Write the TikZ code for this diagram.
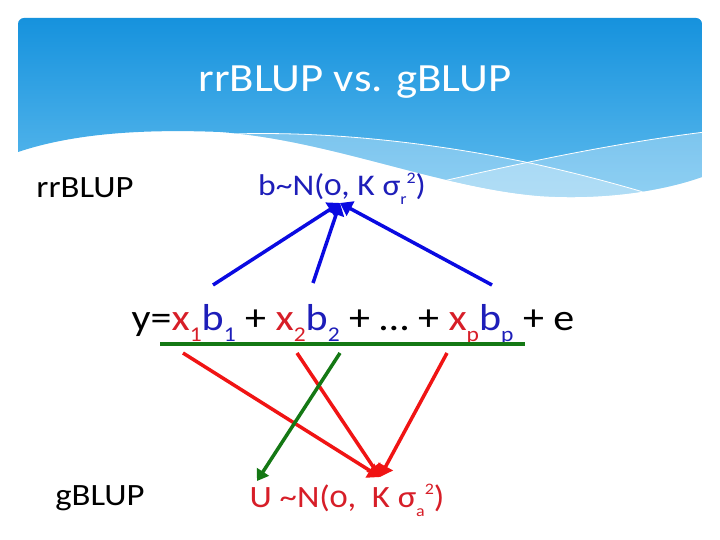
\documentclass[tikz,border=0pt]{standalone}
\usepackage{fontspec}
\setmainfont{Carlito}[Numbers=OldStyle, FakeStretch=1.12]
\usetikzlibrary{arrows.meta, positioning}

\definecolor{hdtop}{RGB}{22,146,221}
\definecolor{hdbot}{RGB}{96,188,238}
\definecolor{txtblue}{RGB}{30,30,185}
\definecolor{arrblue}{RGB}{10,10,225}
\definecolor{txtred}{RGB}{215,30,40}
\definecolor{arrred}{RGB}{240,20,20}
\definecolor{lngreen}{RGB}{20,120,20}

\newcommand{\dnsub}[2]{\raisebox{-.3em}{\fontsize{#1}{#1}\selectfont\addfontfeatures{Numbers=Lining}#2}}
\newcommand{\upsup}[2]{\raisebox{.4em}{\fontsize{#1}{#1}\selectfont\addfontfeatures{Numbers=Lining}#2}}

\begin{document}
\begin{tikzpicture}[x=1pt, y=-1pt,
  lbl/.style={inner sep=0pt, anchor=base, font=\fontsize{31}{33}\selectfont},
  blu/.style={draw=arrblue, line width=3.5pt, -{Triangle[length=12pt,width=16pt]}},
  rd/.style={draw=arrred, line width=3.5pt, -{Triangle[length=12pt,width=16pt]}},
  grn/.style={draw=lngreen, line width=3.5pt, -{Triangle[length=11pt,width=14pt]}}]
\useasboundingbox (0,0) rectangle (720,540);
\fill[white] (0,0) rectangle (720,540);
% header band
\begin{scope}
\clip (18,152) [rounded corners=6pt] -- (18,18) -- (702,18) [sharp corners] -- (702,177)
  .. controls (660,192) and (600,200) .. (540,196) .. controls (440,188) and (330,140) .. (220,132)
  .. controls (120,128) and (60,138) .. (18,152) -- cycle;
\shade[top color=hdtop, bottom color=hdbot] (18,18) rectangle (702,200);
\fill[white, opacity=.3] (195,136) .. controls (300,128) and (420,140) .. (530,163)
  .. controls (580,174) and (620,185) .. (650,194) -- (650,260) -- (195,260) -- cycle;
\fill[white, opacity=.3] (430,184) .. controls (500,168) and (600,145) .. (705,132) -- (705,260) -- (430,260) -- cycle;
\draw[white, line width=.8pt] (195,136) .. controls (300,128) and (420,140) .. (530,163)
  .. controls (580,174) and (620,185) .. (650,194);
\draw[white, line width=.8pt] (430,184) .. controls (500,168) and (600,145) .. (705,132);
\end{scope}

\node[lbl, white, font=\fontsize{40}{42}\selectfont] (title) at (355,92) {rrBLUP vs. gBLUP};
\node[lbl] (rr) at (85,197) {rrBLUP};
\node[lbl, txtblue, font=\fontsize{30}{32}\selectfont] (bN) at (342,196) {b\textasciitilde N(0, K σ\dnsub{16}{r}\upsup{16}{2})};
\node[lbl, font=\fontsize{37.5}{40}\selectfont] (eq) at (353,330) {y=\textcolor{txtred}{x\dnsub{21}{1}}\textcolor{txtblue}{b\dnsub{21}{1}} + \textcolor{txtred}{x\dnsub{21}{2}}\textcolor{txtblue}{b\dnsub{21}{2}} + … + \textcolor{txtred}{x\dnsub{21}{p}}\textcolor{txtblue}{b\dnsub{21}{p}} + e};
\node[lbl] (g) at (100,505) {gBLUP};
\node[lbl, txtred] (UN) at (347,507) {U \textasciitilde N(0, \ K σ\dnsub{16}{a}\upsup{16}{2})};

% arrow ends
\coordinate (b1) at (213,285); \coordinate (b2) at (313,283); \coordinate (bp) at (492,285);
\coordinate (bt) at (340,203);
\coordinate (x1) at (183,353); \coordinate (x2) at (297,353); \coordinate (xp) at (447,353);
\coordinate (xt) at (380,477);
\coordinate (gs) at (340,353); \coordinate (gt) at (257,481);
\coordinate (ul1) at (160,344); \coordinate (ul2) at (525,344);

\draw[lngreen, line width=3.5pt] (ul1) -- (ul2);
\draw[blu] (b1) -- (bt); \draw[blu] (b2) -- (bt); \draw[blu] (bp) -- (bt);
\draw[rd] (x1) -- (xt); \draw[rd] (x2) -- (xt); \draw[rd] (xp) -- (xt);
\draw[grn] (gs) -- (gt);
\end{tikzpicture}
\end{document}
